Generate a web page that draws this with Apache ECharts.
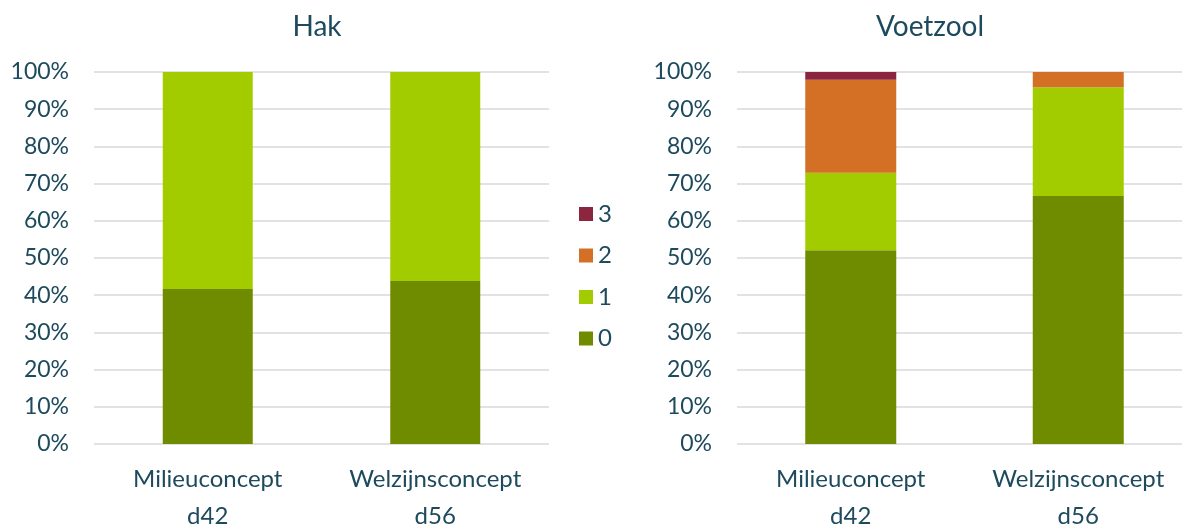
<!DOCTYPE html>
<html>
<head>
<meta charset="utf-8">
<script src="https://cdn.jsdelivr.net/npm/echarts@6/dist/echarts.min.js"></script>
<style>html,body{margin:0;padding:0;background:#fff}#c{width:1182px;height:527px}</style>
</head>
<body>
<div id="c"></div>
<script>
const categories = ['Milieuconcept\nd42', 'Welzijnsconcept\nd56'];
const yTicks = [0, 10, 20, 30, 40, 50, 60, 70, 80, 90, 100];
const seriesNames = ['0', '1', '2', '3'];
// Hak (percent)
const hak0 = [41.7, 43.8];
const hak1 = [58.3, 56.2];
const hak2 = [0, 0];
const hak3 = [0, 0];
// Voetzool (percent)
const voet0 = [52.1, 66.7];
const voet1 = [20.8, 29.2];
const voet2 = [25.0, 4.1];
const voet3 = [2.1, 0];

const colors = ['#6f8c00', '#a3cc00', '#d46f26', '#8b2540'];
const txt = '#1d4a5c';
const font = 'Lato';

const chart = echarts.init(document.getElementById('c'));
function xAxis(i) {
  return {
    type: 'category', gridIndex: i, data: categories,
    axisLine: { show: false }, axisTick: { show: false },
    axisLabel: { color: txt, fontSize: 24, fontFamily: font, lineHeight: 37, margin: 17, interval: 0, hideOverlap: false }
  };
}
function yAxis(i) {
  return {
    type: 'value', gridIndex: i, min: yTicks[0], max: yTicks[yTicks.length - 1], interval: 10,
    axisLabel: { color: txt, fontSize: 23, fontFamily: font, margin: 25, formatter: v => v + '%' },
    splitLine: { lineStyle: { color: '#d9d9d9', width: 1.5 } },
    axisLine: { show: false }, axisTick: { show: false }
  };
}
const hak = [hak0, hak1, hak2, hak3];
const voet = [voet0, voet1, voet2, voet3];
const series = [];
seriesNames.forEach((n, k) => {
  series.push({ name: n, type: 'bar', stack: 'h', xAxisIndex: 0, yAxisIndex: 0, data: hak[k],
    barWidth: 90, itemStyle: { color: colors[k] } });
  series.push({ name: n, type: 'bar', stack: 'v', xAxisIndex: 1, yAxisIndex: 1, data: voet[k],
    barWidth: 91, itemStyle: { color: colors[k] } });
});
chart.setOption({
  animation: false,
  textStyle: { fontFamily: font },
  title: [
    { text: 'Hak', left: 312, top: 8, textAlign: 'center', textStyle: { color: txt, fontSize: 28, fontWeight: 'normal', fontFamily: font } },
    { text: 'Voetzool', left: 925, top: 8, textAlign: 'center', textStyle: { color: txt, fontSize: 28, fontWeight: 'normal', fontFamily: font } }
  ],
  legend: {
    orient: 'vertical', left: 574, top: 197,
    data: ['3', '2', '1', '0'],
    itemWidth: 14, itemHeight: 14, itemGap: 17.5, icon: 'rect',
    textStyle: { color: txt, fontSize: 24, fontFamily: font, lineHeight: 24 }
  },
  grid: [
    { left: 94, width: 455, top: 72, height: 372, outerBoundsMode: 'none' },
    { left: 737, width: 455, top: 72, height: 372, outerBoundsMode: 'none' }
  ],
  xAxis: [xAxis(0), xAxis(1)],
  yAxis: [yAxis(0), yAxis(1)],
  series: series
});
</script>
</body>
</html>
